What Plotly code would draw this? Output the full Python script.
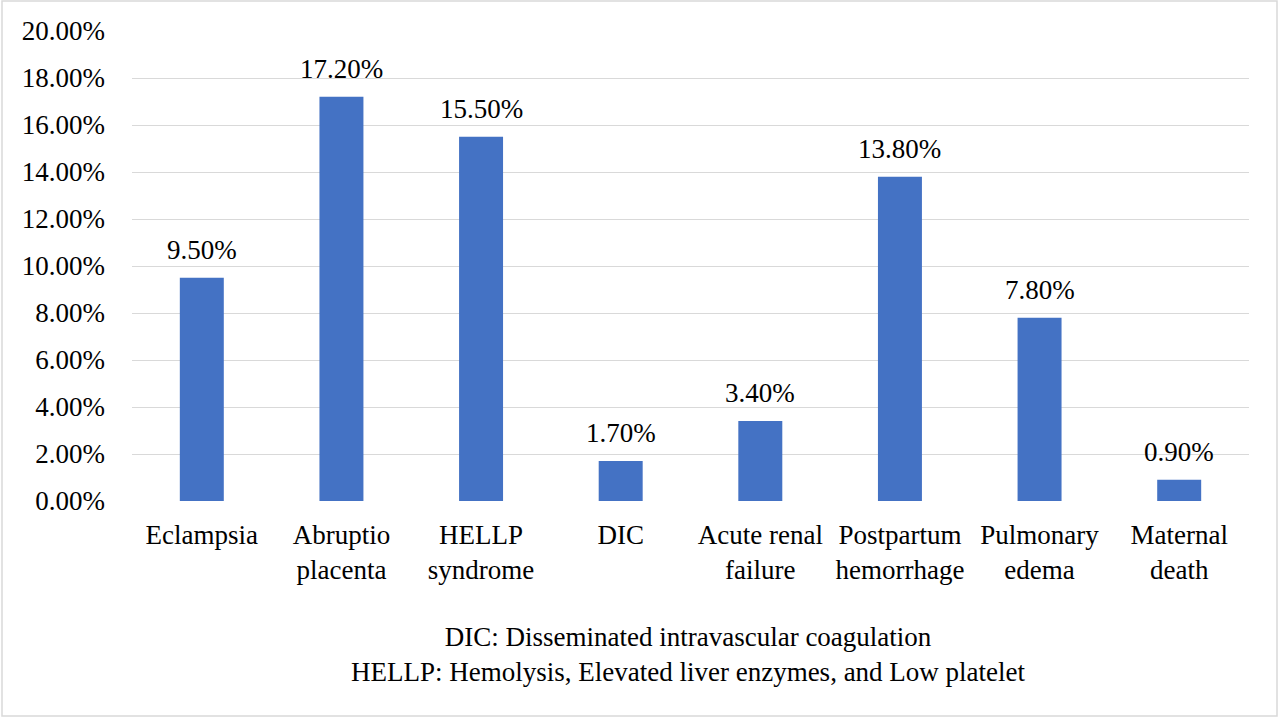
import plotly.graph_objects as go

categories = ["Eclampsia", "Abruptio<br>placenta", "HELLP<br>syndrome", "DIC",
              "Acute renal<br>failure", "Postpartum<br>hemorrhage", "Pulmonary<br>edema",
              "Maternal<br>death"]
values = [9.5, 17.2, 15.5, 1.7, 3.4, 13.8, 7.8, 0.9]
value_labels = ["9.50%", "17.20%", "15.50%", "1.70%", "3.40%", "13.80%", "7.80%", "0.90%"]
y_ticks = [0, 2, 4, 6, 8, 10, 12, 14, 16, 18, 20]
y_tick_labels = [f"{v:.2f}%" for v in y_ticks]
footnote = ("DIC: Disseminated intravascular coagulation<br>"
            "HELLP: Hemolysis, Elevated liver enzymes, and Low platelet")

FONT = "Liberation Serif"

fig = go.Figure(go.Bar(
    x=categories, y=values,
    marker=dict(color="#4472C4", line=dict(width=0)),
    width=0.315,
    hoverinfo="skip",
))

for c, v, t in zip(categories, values, value_labels):
    fig.add_annotation(x=c, y=v, text=t, showarrow=False,
                       xanchor="center", yanchor="bottom", yshift=11,
                       font=dict(family=FONT, size=27, color="#000000"))

W, H = 1280, 721
L, R, T, B = 132, 31, 31, 220

fig.update_layout(
    width=W, height=H,
    margin=dict(l=L, r=R, t=T, b=B),
    paper_bgcolor="white", plot_bgcolor="white",
    font=dict(family=FONT, size=27, color="#000000"),
    showlegend=False,
    xaxis=dict(showgrid=False, showline=False, zeroline=False,
               tickfont=dict(family=FONT, size=27, color="#000000"),
               ticks="", ticklabelstandoff=15),
    yaxis=dict(range=[0, 20], tickvals=y_ticks, ticktext=y_tick_labels,
               showgrid=True, gridcolor="#D9D9D9", gridwidth=1.3,
               zeroline=False, showline=False, ticks="",
               tickfont=dict(family=FONT, size=27, color="#000000"),
               ticklabelstandoff=26),
)

pw = W - L - R
ph = H - T - B
fig.add_annotation(
    text=footnote, xref="paper", yref="paper",
    x=(688 - L) / pw, y=(H - 654 - B) / ph, xanchor="center", yanchor="middle",
    showarrow=False, align="center",
    font=dict(family=FONT, size=27, color="#000000"),
)
fig.add_shape(type="rect", xref="paper", yref="paper",
              x0=(2 - L) / pw, x1=(1277 - L) / pw,
              y0=(H - 716 - B) / ph, y1=(H - 1 - B) / ph,
              line=dict(color="#D9D9D9", width=1.5), fillcolor="rgba(0,0,0,0)")

fig.write_html("out.html", config={"displayModeBar": False},
               post_script="document.body.style.margin='0';document.body.style.overflow='hidden';")
